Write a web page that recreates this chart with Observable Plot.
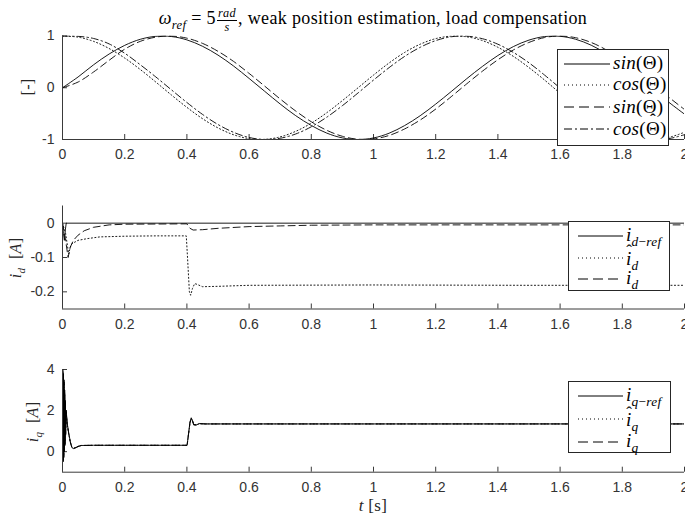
<!DOCTYPE html>
<html><head><meta charset="utf-8">
<script src="https://cdn.jsdelivr.net/npm/d3@7"></script>
<script src="https://cdn.jsdelivr.net/npm/@observablehq/plot@0.6"></script>
<style>
body{margin:0;background:#fff;}
#fig{position:relative;width:685px;height:515px;overflow:hidden;background:#fff;}
#fig svg{position:absolute;left:0;top:0;}
.tx{position:absolute;font-family:"Liberation Serif",serif;color:#000;white-space:nowrap;line-height:1;}
.ylab{transform:translate(-50%,-50%) rotate(-90deg);font-size:16px;color:#262626;letter-spacing:0.3px;}
.frac{display:inline-flex;flex-direction:column;vertical-align:middle;font-size:0.68em;text-align:center;line-height:1;margin:0 1px;}
.frac span:first-child{border-bottom:0.7px solid #000;padding:0 1px 1px;}
.leg{position:absolute;background:#fff;border:1px solid #262626;box-sizing:border-box;}
.leg svg{position:absolute;left:0;top:0;}
.lt{position:absolute;font-family:"Liberation Serif",serif;font-size:19px;letter-spacing:0.3px;line-height:20px;white-space:nowrap;color:#000;}
.hat{position:relative;display:inline-block;}
.hat::after{content:"\02C6";position:absolute;left:50%;transform:translateX(-50%);top:-0.55em;font-size:0.9em;font-weight:bold;}
.hat.low::after{top:-0.42em;left:60%;font-weight:normal;}
sub{font-size:0.7em;vertical-align:-0.35em;line-height:0;}
</style></head><body><div id="fig"></div><script>
// ---------- data ----------
const xTicks = [0, 0.2, 0.4, 0.6, 0.8, 1, 1.2, 1.4, 1.6, 1.8, 2];
const xTickLabels = ["0", "0.2", "0.4", "0.6", "0.8", "1", "1.2", "1.4", "1.6", "1.8", "2"];

// panel 1: position signals
const t1 = [0,0.05,0.1,0.15,0.2,0.25,0.3,0.35,0.4,0.45,0.5,0.55,0.6,0.65,0.7,0.75,0.8,0.85,0.9,0.95,1,1.05,1.1,1.15,1.2,1.25,1.3,1.35,1.4,1.45,1.5,1.55,1.6,1.65,1.7,1.75,1.8,1.85,1.9,1.95,2];
const sinTheta = [0,0.208,0.444,0.652,0.819,0.936,0.994,0.990,0.925,0.802,0.631,0.420,0.180,-0.068,-0.314,-0.540,-0.729,-0.877,-0.969,-1.000,-0.970,-0.879,-0.731,-0.541,-0.316,-0.073,0.176,0.411,0.623,0.796,0.921,0.989,0.994,0.937,0.822,0.656,0.449,0.213,-0.035,-0.282,-0.510];
const cosTheta = [1,0.978,0.896,0.758,0.574,0.353,0.110,-0.139,-0.379,-0.597,-0.776,-0.908,-0.984,-0.998,-0.949,-0.842,-0.684,-0.481,-0.248,-0.002,0.245,0.478,0.682,0.841,0.949,0.997,0.984,0.912,0.782,0.605,0.389,0.149,-0.106,-0.349,-0.570,-0.755,-0.893,-0.977,-0.999,-0.959,-0.860];
const sinThetaHat = [0,0.110,0.305,0.531,0.745,0.896,0.978,0.999,0.958,0.858,0.704,0.509,0.277,0.032,-0.217,-0.450,-0.657,-0.823,-0.938,-0.995,-0.988,-0.922,-0.796,-0.624,-0.412,-0.172,0.077,0.319,0.541,0.731,0.876,0.970,1.000,0.967,0.875,0.727,0.535,0.309,0.065,-0.185,-0.420];
const cosThetaHat = [1,0.994,0.952,0.847,0.667,0.445,0.209,-0.039,-0.285,-0.514,-0.710,-0.861,-0.961,-0.999,-0.976,-0.893,-0.754,-0.568,-0.346,-0.102,0.148,0.388,0.605,0.781,0.911,0.985,0.997,0.948,0.841,0.682,0.482,0.245,-0.006,-0.253,-0.485,-0.687,-0.845,-0.951,-0.998,-0.983,-0.907];

// panel 2: d-axis currents
const tIdRef = [0,0.003,0.006,0.009,0.012,2];
const idRef = [0,-0.03,-0.05,-0.02,0,0];
const tIdHat = [0,0.01,0.02,0.025,0.03,0.05,0.08,0.12,0.2,0.3,0.398,0.402,0.408,0.412,0.418,0.425,0.432,0.45,0.5,0.6,1.0,1.5,2];
const idHat = [0,-0.03,-0.09,-0.07,-0.06,-0.05,-0.045,-0.04,-0.038,-0.037,-0.037,-0.1,-0.2,-0.21,-0.19,-0.176,-0.178,-0.185,-0.184,-0.181,-0.18,-0.181,-0.181];
const tId = [0,0.01,0.018,0.025,0.035,0.05,0.07,0.1,0.15,0.2,0.4,0.41,0.42,0.45,0.5,0.6,0.7,0.8,1.0,2];
const id = [0,-0.05,-0.1,-0.07,-0.05,-0.035,-0.022,-0.012,-0.005,-0.003,-0.002,-0.015,-0.02,-0.019,-0.015,-0.01,-0.008,-0.006,-0.005,-0.005];

// panel 3: q-axis currents
const tIq = [0,0.001,0.002,0.003,0.004,0.005,0.006,0.007,0.008,0.009,0.01,0.012,0.015,0.02,0.025,0.03,0.035,0.04,0.05,0.06,0.1,0.2,0.4,0.401,0.41,0.414,0.418,0.422,0.43,0.44,0.46,1,2];
const iqRef = [0,4,-0.5,3.8,-0.3,3.5,0,3,0.3,2.5,0.8,2.0,1.4,0.9,0.5,0.2,0.15,0.17,0.25,0.3,0.31,0.31,0.31,0.35,1.45,1.65,1.5,1.3,1.3,1.37,1.35,1.35,1.35];
const iqHat = [0,3.8,-0.4,3.6,-0.2,3.3,0.1,2.8,0.4,2.3,0.9,1.9,1.35,0.85,0.45,0.22,0.17,0.19,0.26,0.3,0.31,0.31,0.31,0.36,1.4,1.6,1.52,1.33,1.3,1.36,1.35,1.35,1.35];
const iq = [0,3.9,-0.45,3.7,-0.25,3.4,0.05,2.9,0.35,2.4,0.85,1.95,1.38,0.88,0.48,0.21,0.16,0.18,0.25,0.3,0.31,0.31,0.31,0.35,1.42,1.62,1.51,1.31,1.3,1.36,1.35,1.35,1.35];

// ---------- drawing ----------
const W = 685, H = 515;
const fig = document.getElementById("fig");
const axisColor = "#3a3a3a";

function panel({top, bottom, yDomain, yTicks, yTickLabels, series}) {
  const svg = Plot.plot({
    width: W, height: H,
    marginLeft: 62, marginRight: 1, marginTop: top, marginBottom: H - bottom,
    x: {domain: [0, 2]},
    y: {domain: yDomain},
    style: {fontFamily: "'Liberation Sans', Arial, sans-serif", fontSize: "14px", color: "#333", background: "transparent", overflow: "visible"},
    marks: [
      Plot.axisX({ticks: xTicks, tickSize: -5, tickPadding: 15, tickFormat: d => xTickLabels[xTicks.indexOf(d)], label: null, stroke: axisColor}),
      Plot.axisY({ticks: yTicks, tickSize: -5, tickPadding: 13, tickFormat: d => yTickLabels[yTicks.indexOf(d)], label: null, stroke: axisColor}),
      ...series.map(s => Plot.line(s.x, {x: s.x, y: s.y, stroke: "#000", strokeWidth: 0.9, strokeDasharray: s.dash, curve: s.curve || "linear", clip: true})),
      Plot.ruleX([0], {stroke: axisColor, strokeWidth: 1}),
      Plot.ruleY([yDomain[0]], {stroke: axisColor, strokeWidth: 1})
    ]
  });
  fig.appendChild(svg);
}

const DOT = "1.1,2.4", DASH = "7,4", DASHDOT = "7,3,1.5,3";

panel({top: 35.5, bottom: 139, yDomain: [-1, 1], yTicks: [-1, 0, 1], yTickLabels: ["-1", "0", "1"],
  series: [
    {x: t1, y: sinTheta, curve: "catmull-rom"},
    {x: t1, y: cosTheta, dash: DOT, curve: "catmull-rom"},
    {x: t1, y: sinThetaHat, dash: DASH, curve: "catmull-rom"},
    {x: t1, y: cosThetaHat, dash: DASHDOT, curve: "catmull-rom"}
  ]});
panel({top: 205.5, bottom: 308.5, yDomain: [-0.25, 0.05], yTicks: [-0.2, -0.1, 0], yTickLabels: ["-0.2", "-0.1", "0"],
  series: [
    {x: tIdRef, y: idRef},
    {x: tIdHat, y: idHat, dash: DOT},
    {x: tId, y: id, dash: DASH}
  ]});
panel({top: 369, bottom: 471.7, yDomain: [-1, 4], yTicks: [0, 2, 4], yTickLabels: ["0", "2", "4"],
  series: [
    {x: tIq, y: iqRef},
    {x: tIq, y: iqHat, dash: DOT},
    {x: tIq, y: iq, dash: DASH}
  ]});

// ---------- texts ----------
function addHTML(html) { fig.insertAdjacentHTML("beforeend", html); }
addHTML(`<div class="tx" style="left:62px;width:622px;top:7px;text-align:center;font-size:18px;letter-spacing:0.35px;"><i>ω</i><sub><i>ref</i></sub> = 5<span class="frac"><span><i>rad</i></span><span><i>s</i></span></span>, weak position estimation, load compensation</div>`);
addHTML(`<div class="tx ylab" style="left:28px;top:87px;">[-]</div>`);
addHTML(`<div class="tx ylab" style="left:16px;top:258px;"><i>i</i><sub><i>d</i></sub>&nbsp; [<i>A</i>]</div>`);
addHTML(`<div class="tx ylab" style="left:33px;top:422px;"><i>i</i><sub><i>q</i></sub>&nbsp; [<i>A</i>]</div>`);
addHTML(`<div class="tx" style="left:373px;top:505px;transform:translate(-50%,-50%);font-size:17px;color:#262626;letter-spacing:0.3px;"><i>t</i> [s]</div>`);

// ---------- legends ----------
function legend({left, top, width, height, x1, x2, tx, rows}) {
  let s = `<div class="leg" style="left:${left}px;top:${top}px;width:${width}px;height:${height}px;"><svg width="${width}" height="${height}">`;
  rows.forEach(r => { s += `<line x1="${x1}" x2="${x2}" y1="${r.y}" y2="${r.y}" stroke="#000" stroke-width="1" ${r.dash ? `stroke-dasharray="${r.dash}"` : ""}/>`; });
  s += `</svg>`;
  rows.forEach(r => { s += `<div class="lt" style="left:${tx}px;top:${r.y - 11 + (r.dy || 0)}px;">${r.label}</div>`; });
  s += `</div>`;
  addHTML(s);
}
legend({left: 557, top: 49, width: 112, height: 97, x1: 6, x2: 52, tx: 55, rows: [
  {y: 14, label: `<i>sin</i>(Θ)`},
  {y: 35, dash: "1,3", label: `<i>cos</i>(Θ)`},
  {y: 57, dash: "10,5", dy: 1, label: `<i>sin</i>(<span class="hat">Θ</span>)`},
  {y: 79, dash: "8,3,2,3", dy: 1, label: `<i>cos</i>(<span class="hat">Θ</span>)`}
]});
legend({left: 568, top: 220.5, width: 102, height: 70, x1: 9, x2: 54, tx: 57, rows: [
  {y: 14, label: `<i>i</i><sub><i>d</i>−<i>ref</i></sub>`},
  {y: 36, dash: "1,3", dy: 2, label: `<span class="hat low"><i>i</i></span><sub><i>d</i></sub>`},
  {y: 57, dash: "10,5", label: `<i>i</i><sub><i>d</i></sub>`}
]});
legend({left: 568, top: 381, width: 103, height: 72, x1: 9, x2: 54, tx: 57, rows: [
  {y: 14, label: `<i>i</i><sub><i>q</i>−<i>ref</i></sub>`},
  {y: 37, dash: "1,3", dy: 2, label: `<span class="hat low"><i>i</i></span><sub><i>q</i></sub>`},
  {y: 60, dash: "10,5", label: `<i>i</i><sub><i>q</i></sub>`}
]});
</script></body></html>
